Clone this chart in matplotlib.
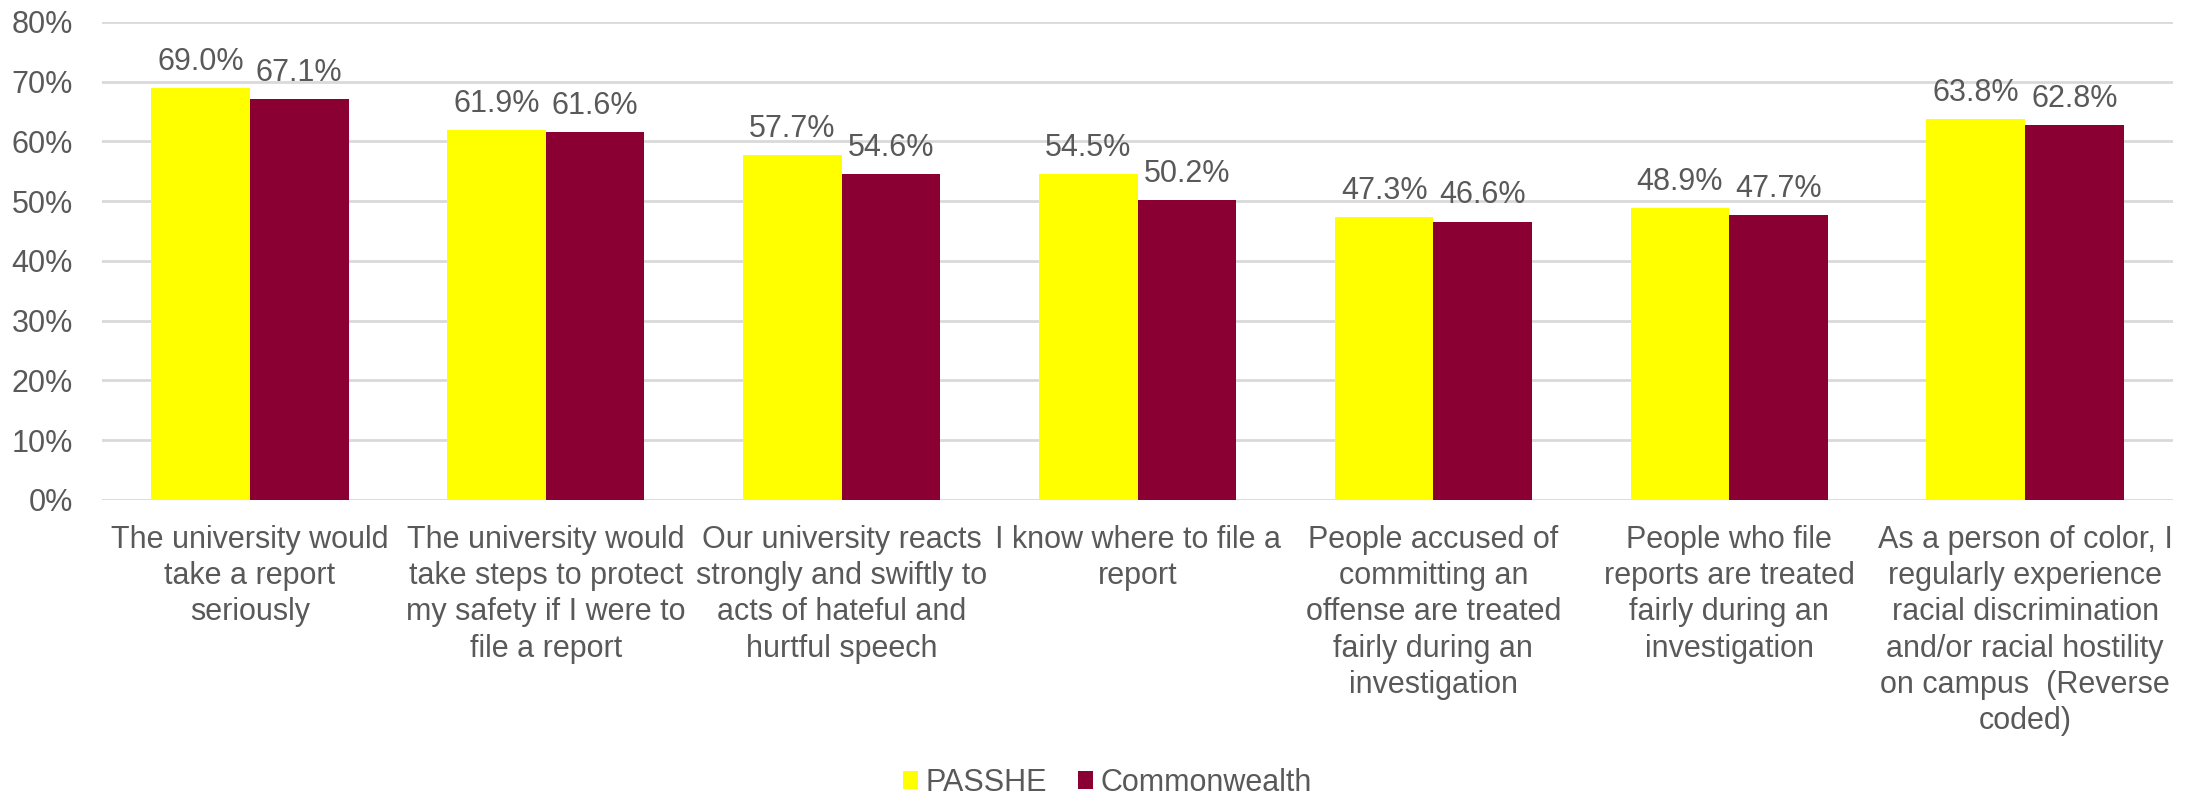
import numpy as np
import matplotlib
matplotlib.use('Agg')
import matplotlib.pyplot as plt
from matplotlib.patches import Patch

FONT_SIZE = 22
TEXT_COLOR = '#595959'
GRID_COLOR = '#D9D9D9'

categories = [
    "The university would\ntake a report\nseriously",
    "The university would\ntake steps to protect\nmy safety if I were to\nfile a report",
    "Our university reacts\nstrongly and swiftly to\nacts of hateful and\nhurtful speech",
    "I know where to file a\nreport",
    "People accused of\ncommitting an\noffense are treated\nfairly during an\ninvestigation",
    "People who file\nreports are treated\nfairly during an\ninvestigation",
    "As a person of color, I\nregularly experience\nracial discrimination\nand/or racial hostility\non campus  (Reverse\ncoded)",
]
passhe = [69.0, 61.9, 57.7, 54.5, 47.3, 48.9, 63.8]
commonwealth = [67.1, 61.6, 54.6, 50.2, 46.6, 47.7, 62.8]
y_ticks = [0, 10, 20, 30, 40, 50, 60, 70, 80]

series_names = ['PASSHE', 'Commonwealth']
series_colors = ['#FFFF00', '#8B0033']

plt.rcParams['font.family'] = ['Liberation Sans', 'DejaVu Sans']

fig = plt.figure(figsize=(21.93, 7.94), dpi=100)
ax = fig.add_axes([0.0465, 0.3703, 0.9444, 0.602])

x = np.arange(len(categories))
width = 1 / 3
for i, (vals, color) in enumerate(zip([passhe, commonwealth], series_colors)):
    offset = (i - 0.5) * width
    bars = ax.bar(x + offset, vals, width=width, color=color, zorder=3)
    for rect, v in zip(bars, vals):
        ax.annotate(f'{v:.1f}%',
                    xy=(rect.get_x() + rect.get_width() / 2, rect.get_height()),
                    xytext=(0, 13), textcoords='offset points',
                    ha='center', va='baseline',
                    fontsize=FONT_SIZE, color=TEXT_COLOR)

ax.set_xlim(-0.5, len(categories) - 0.5)
ax.set_ylim(0, 80)
ax.set_yticks(y_ticks)
ax.set_yticklabels([f'{t}%' for t in y_ticks])
ax.set_xticks(x)
ax.set_xticklabels(categories, fontsize=FONT_SIZE, color=TEXT_COLOR, linespacing=1.27)

ax.tick_params(axis='y', length=0, pad=21, labelsize=FONT_SIZE, labelcolor=TEXT_COLOR)
ax.tick_params(axis='x', length=0, pad=18)

# Horizontal gridlines only, no frame
ax.yaxis.grid(True, color=GRID_COLOR, linewidth=2, zorder=0)
ax.set_axisbelow(True)
for side in ['top', 'right', 'left', 'bottom']:
    ax.spines[side].set_visible(False)

handles = [Patch(facecolor=c, label=n) for c, n in zip(series_colors, series_names)]
fig.legend(handles=handles, loc='center', bbox_to_anchor=(0.505, 0.014), ncol=2,
           frameon=False, fontsize=FONT_SIZE, labelcolor=TEXT_COLOR,
           handlelength=0.5, handleheight=0.5, handletextpad=0.25, columnspacing=1.0)

fig.savefig('out.png', dpi=100)
